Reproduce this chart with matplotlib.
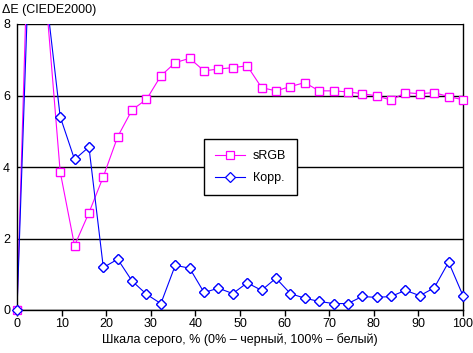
import numpy as np
import matplotlib
matplotlib.use("Agg")
import matplotlib.pyplot as plt

plt.rcParams['font.family'] = ['Liberation Sans', 'DejaVu Sans']

# grey scale steps, 32 points 0..100
grey = np.arange(32) / 31 * 100
srgb = [0, 13.6, 8.8, 3.87, 1.80, 2.72, 3.73, 4.85, 5.60, 5.89, 6.55, 6.92, 7.04, 6.69, 6.74, 6.78,
        6.83, 6.22, 6.13, 6.25, 6.36, 6.13, 6.13, 6.10, 6.05, 5.99, 5.87, 6.08, 6.05, 6.08, 5.97, 5.88]
corr = [0, 11.7, 8.9, 5.41, 4.21, 4.56, 1.19, 1.42, 0.81, 0.44, 0.18, 1.25, 1.17, 0.49, 0.61, 0.46,
        0.76, 0.55, 0.89, 0.46, 0.33, 0.24, 0.18, 0.18, 0.38, 0.35, 0.38, 0.55, 0.40, 0.62, 1.34, 0.40]
x_ticks = [0, 10, 20, 30, 40, 50, 60, 70, 80, 90, 100]
y_ticks = [0, 2, 4, 6, 8]

W, H = 473, 353
fig = plt.figure(figsize=(W / 100, H / 100), dpi=100)
ax = fig.add_axes([17 / W, 43 / H, 446 / W, 286 / H])

series = [(srgb, '#ff00ff', 's', 5.2, 'sRGB'), (corr, '#0000ff', 'D', 4.6, 'Корр.')]
for vals, col, mk, ms, lab in series:
    ax.plot(grey, vals, color=col, lw=0.8, marker=mk, ms=ms, mfc='white', mec=col,
            mew=0.9, label=lab)
    # markers on the frame edges stay whole, the ones above the range are dropped
    ax.plot(grey, np.ma.masked_greater(vals, 8), ls='none', marker=mk, ms=ms, mfc='white',
            mec=col, mew=0.9, clip_on=False, zorder=3)

ax.set_xlim(0, 100)
ax.set_ylim(0, 8)
ax.set_xticks(x_ticks)
ax.set_yticks(y_ticks)
ax.grid(axis='y', color='black', lw=1)
ax.set_axisbelow(True)
ax.tick_params(axis='x', direction='out', length=4, width=1, labelsize=9, pad=2)
ax.tick_params(axis='y', length=0, labelsize=9, pad=5)
for s in ['left', 'right', 'bottom']:
    ax.spines[s].set_color('black')
    ax.spines[s].set_linewidth(1)
ax.spines['top'].set_visible(False)

ax.set_xlabel('Шкала серого, % (0% – черный, 100% – белый)', fontsize=9, labelpad=2)
fig.text(2 / W, 1 - 10 / H, 'ΔE (CIEDE2000)', fontsize=9, va='center', ha='left')

leg = ax.legend(loc='upper left', bbox_to_anchor=(0.419, 0.598), borderaxespad=0,
                fontsize=9, fancybox=False, edgecolor='black', framealpha=1,
                handlelength=2.4, handletextpad=0.6, borderpad=0.9, labelspacing=0.8)
leg.get_frame().set_linewidth(1)

fig.savefig('out.png', dpi=100)
